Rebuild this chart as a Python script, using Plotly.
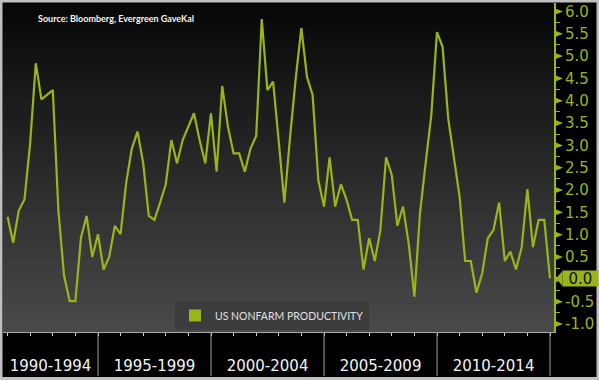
import plotly.graph_objects as go
import pandas as pd

# ---------------- data ----------------
series_name = "US NONFARM PRODUCTIVITY"
first_quarter = "1990Q4"
productivity = [
    1.40, 0.82, 1.54, 1.79, 3.05, 4.84, 4.03, 4.14, 4.24, 1.55,
    0.09, -0.49, -0.49, 0.93, 1.42, 0.50, 1.01, 0.22, 0.50, 1.20,
    1.01, 2.16, 2.93, 3.31, 2.60, 1.42, 1.33, 1.72, 2.13, 3.12,
    2.60, 3.12, 3.42, 3.72, 3.12, 2.60, 3.72, 2.41, 4.33, 3.42,
    2.82, 2.82, 2.41, 2.93, 3.21, 5.83, 4.24, 4.43, 3.08, 1.72,
    3.17, 4.49, 5.63, 4.53, 4.13, 2.22, 1.63, 2.73, 1.63, 2.13,
    1.78, 1.33, 1.33, 0.22, 0.92, 0.41, 1.10, 2.73, 2.34, 1.20,
    1.63, 0.80, -0.39, 1.48, 2.60, 3.68, 5.54, 5.21, 3.61, 2.67,
    1.85, 0.41, 0.41, -0.30, 0.13, 0.92, 1.10, 1.72, 0.41, 0.62,
    0.22, 0.72, 2.02, 0.72, 1.33, 1.33, 0.02,
]
group_labels = ["1990-1994", "1995-1999", "2000-2004", "2005-2009", "2010-2014"]
group_start_years = [1990, 1995, 2000, 2005, 2010]
group_span_years = 5
y_tick_values = [-1.0, -0.5, 0.0, 0.5, 1.0, 1.5, 2.0, 2.5, 3.0,
                 3.5, 4.0, 4.5, 5.0, 5.5, 6.0]
source_text = "Source: Bloomberg, Evergreen GaveKal"

# ---------------- styling ----------------
GREEN = "#98b51c"
W, H = 599, 380
ML, MR, MT, MB = 3, 45, 3, 48
PW, PH = W - ML - MR, H - MT - MB
x_range = [pd.Timestamp("1990-10-18"), pd.Timestamp("2015-03-06")]
y_range = [-1.18, 6.19]


def px_x(px):
    return (px - ML) / PW


def px_y(py):
    return (H - MB - py) / PH


q0 = pd.Period(first_quarter, freq="Q")
dates = [(q0 + k).end_time.normalize() for k in range(len(productivity))]
last = productivity[-1]

fig = go.Figure()
fig.add_trace(go.Scatter(
    x=dates, y=productivity, mode="lines", name=series_name,
    line=dict(color=GREEN, width=2.2), showlegend=False,
))
# legend entry with square swatch
fig.add_trace(go.Scatter(
    x=[None], y=[None], mode="markers", name=series_name,
    marker=dict(symbol="square", size=11, color=GREEN),
))

shapes = []
# vertical gradient background of the plot panel
n = 70
top_c, bot_c = (7, 7, 7), (74, 74, 74)
for k in range(n):
    t = (k + 0.5) / n
    c = tuple(round(bot_c[i] + (top_c[i] - bot_c[i]) * t) for i in range(3))
    shapes.append(dict(type="rect", xref="paper", yref="paper",
                       x0=0, x1=1, y0=k / n, y1=(k + 1) / n + 0.002,
                       fillcolor="rgb(%d,%d,%d)" % c, line=dict(width=0),
                       layer="below"))

# group separators below the axis
ends = [pd.Timestamp(year=s + group_span_years, month=1, day=1) for s in group_start_years]
for e in ends:
    shapes.append(dict(type="line", xref="x", yref="paper", x0=e, x1=e,
                       y0=0, y1=px_y(376), line=dict(color="#a0a0a0", width=1)))

# triangle markers for the right axis ticks
ppu = PH / (y_range[1] - y_range[0])
dy = 3.6 / ppu
for v in y_tick_values:
    shapes.append(dict(type="path", xref="paper", yref="y",
                       path="M 1,%f L %f,%f L 1,%f Z" % (v - dy, 1 + 9 / PW, v, v + dy),
                       fillcolor=GREEN, line=dict(width=0)))

# pointer for the last-value label
dl = 7.5 / ppu
shapes.append(dict(type="path", xref="paper", yref="y",
                   path="M %f,%f L %f,%f L %f,%f Z" % (1 + 2 / PW, last, 1 + 8.5 / PW, last + dl,
                                                      1 + 8.5 / PW, last - dl),
                   fillcolor=GREEN, line=dict(width=0)))

# outer frame
shapes.append(dict(type="rect", xref="paper", yref="paper",
                   x0=px_x(1), x1=px_x(598), y0=px_y(378.5), y1=px_y(1),
                   line=dict(color="#c0c0c0", width=3), layer="above"))

# group label positions: centre of visible part of each group
tick_vals, tick_text = [], []
for lab, s in zip(group_labels, group_start_years):
    a = max(pd.Timestamp(year=s, month=1, day=1), x_range[0])
    b = min(pd.Timestamp(year=s + group_span_years, month=1, day=1), x_range[1])
    tick_vals.append(a + (b - a) / 2)
    tick_text.append(lab)

year_ticks = [pd.Timestamp(year=y, month=1, day=1)
              for y in range(group_start_years[0], group_start_years[-1] + group_span_years + 1)]

minor_y = [v + 0.25 for v in y_tick_values[:-1]]
# the tick label hidden behind the last-value box is left blank
y_tick_text = ["" if abs(v - last) < 0.25 else "%.1f" % v for v in y_tick_values]

fig.update_layout(
    width=W, height=H,
    margin=dict(l=ML, r=MR, t=MT, b=MB, autoexpand=False),
    paper_bgcolor="#000000", plot_bgcolor="rgba(0,0,0,0)",
    shapes=shapes,
    legend=dict(x=px_x(272), y=px_y(315.5), xanchor="center", yanchor="middle",
                bgcolor="#3c3c3c", borderwidth=0,
                font=dict(family="Lato", size=10.5, color="#e0e0e0"),
                itemsizing="constant"),
    xaxis=dict(type="date", range=x_range, showgrid=False, zeroline=False,
               automargin=False,
               tickmode="array", tickvals=tick_vals, ticktext=tick_text,
               ticks="", tickfont=dict(family="DejaVu Sans", size=15, color="#f4f4f4"),
               ticklabelstandoff=20,
               showline=True, linecolor="#a8a8a8", linewidth=1,
               minor=dict(tickmode="array", tickvals=year_ticks, ticks="outside",
                          ticklen=3, tickwidth=1, tickcolor="#d0d0d0", showgrid=False)),
    yaxis=dict(side="right", range=y_range, showgrid=False, zeroline=False,
               automargin=False,
               tickmode="array", tickvals=y_tick_values, ticktext=y_tick_text,
               ticks="outside", ticklen=6, tickcolor="rgba(0,0,0,0)",
               tickfont=dict(family="DejaVu Sans", size=15, color=GREEN),
               showline=True, linecolor=GREEN, linewidth=2,
               minor=dict(tickmode="array", tickvals=minor_y, ticks="outside",
                          ticklen=4, tickwidth=1, tickcolor=GREEN, showgrid=False)),
    annotations=[
        dict(xref="paper", yref="paper", x=px_x(36), y=px_y(18),
             xanchor="left", yanchor="middle", showarrow=False,
             text="<b>%s</b>" % source_text,
             font=dict(family="Lato", size=9, color="#f4f4f4")),
        dict(xref="paper", yref="y", x=1, y=last, xanchor="left", yanchor="middle",
             xshift=8, showarrow=False, text="%.1f" % last,
             width=33, height=13, borderpad=1, bgcolor=GREEN, align="center",
             font=dict(family="DejaVu Sans", size=15, color="#111111")),
    ],
)

fig.write_html("out.html", config={"displayModeBar": False},
               post_script="document.body.style.margin='0';")
